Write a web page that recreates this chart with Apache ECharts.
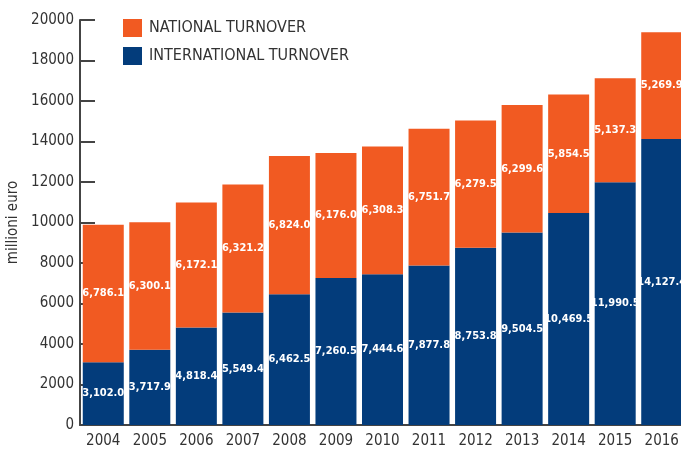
<!DOCTYPE html>
<html>
<head>
<meta charset="utf-8">
<script src="https://cdn.jsdelivr.net/npm/echarts@6/dist/echarts.min.js"></script>
<style>
  html, body { margin: 0; padding: 0; background: #fff; }
  #chart { width: 681px; height: 451px; }
</style>
</head>
<body>
<div id="chart"></div>
<script>
// dati
var years = ['2004', '2005', '2006', '2007', '2008', '2009', '2010', '2011', '2012', '2013', '2014', '2015', '2016'];
var international = [3102.0, 3717.9, 4818.4, 5549.4, 6462.5, 7260.5, 7444.6, 7877.8, 8753.8, 9504.5, 10469.5, 11990.5, 14127.4];
var national = [6786.1, 6300.1, 6172.1, 6321.2, 6824.0, 6176.0, 6308.3, 6751.7, 6279.5, 6299.6, 5854.5, 5137.3, 5269.9];

var FONT = '"DejaVu Sans Condensed", "Liberation Sans Narrow", sans-serif';

function fmt(v) {
    var parts = v.toFixed(1).split('.');
    return parts[0].replace(/\B(?=(\d{3})+(?!\d))/g, ',') + '.' + parts[1];
}

var barLabel = {
    show: true,
    position: 'inside',
    color: '#fff',
    fontFamily: FONT,
    fontWeight: 'bold',
    fontSize: 11,
    formatter: function (p) { return fmt(p.value); }
};

var myChart = echarts.init(document.getElementById('chart'));
myChart.setOption({
    animation: false,
    grid: { left: 80, right: -4, top: 20, bottom: 26, outerBoundsMode: 'none', containLabel: false },
    legend: {
        orient: 'vertical',
        left: 118,
        top: 14,
        itemWidth: 19,
        itemHeight: 18,
        itemGap: 10,
        icon: 'rect',
        textStyle: { fontFamily: FONT, fontSize: 16, color: '#333', padding: [0, 0, 0, 2] },
        data: ['NATIONAL TURNOVER', 'INTERNATIONAL TURNOVER']
    },
    xAxis: {
        type: 'category',
        data: years,
        axisLine: { lineStyle: { color: '#444', width: 2 } },
        axisTick: { show: false },
        axisLabel: { interval: 0, fontFamily: FONT, fontSize: 15, color: '#333', margin: 9 }
    },
    yAxis: {
        type: 'value',
        min: 0,
        max: 20000,
        interval: 2000,
        name: 'millioni euro',
        nameLocation: 'middle',
        nameGap: 53,
        nameRotate: 90,
        nameTextStyle: { fontFamily: FONT, fontSize: 15, color: '#333' },
        splitLine: { show: false },
        axisLine: { show: true, lineStyle: { color: '#444', width: 2 } },
        axisTick: { show: true, inside: true, length: 15, lineStyle: { color: '#444', width: 2 } },
        axisLabel: {
            fontFamily: FONT, fontSize: 15, color: '#333', margin: 6,
            formatter: function (v) { return String(v); }
        }
    },
    series: [
        {
            name: 'INTERNATIONAL TURNOVER',
            type: 'bar',
            stack: 'tot',
            barWidth: 41,
            itemStyle: { color: '#033C7B' },
            label: barLabel,
            data: international
        },
        {
            name: 'NATIONAL TURNOVER',
            type: 'bar',
            stack: 'tot',
            barWidth: 41,
            itemStyle: { color: '#F15A22' },
            label: barLabel,
            data: national
        }
    ]
});
</script>
</body>
</html>
